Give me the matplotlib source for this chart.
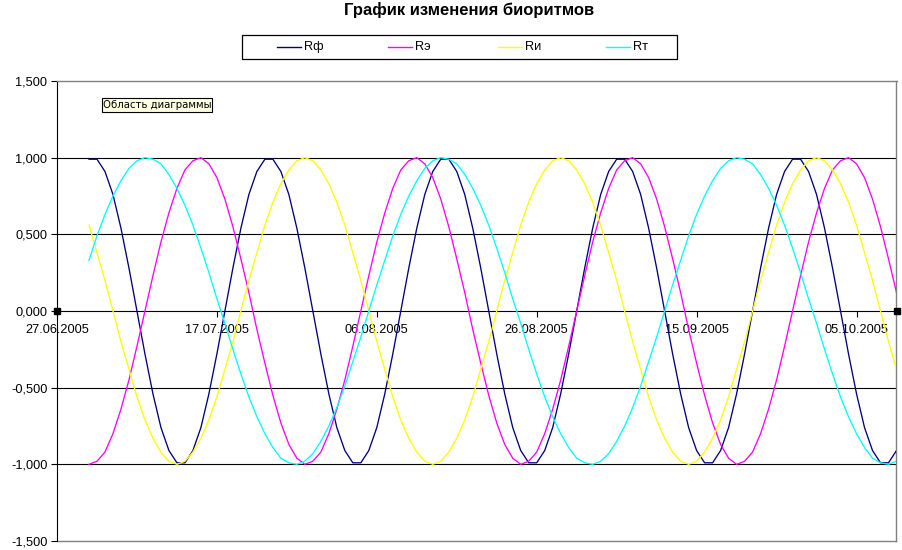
import matplotlib
matplotlib.use("Agg")
import matplotlib.pyplot as plt
import matplotlib.dates as mdates
from matplotlib.patches import Rectangle
from matplotlib.lines import Line2D
import pandas as pd

W, H = 903, 550

title = "График изменения биоритмов"
series_names = ["Rф", "Rэ", "Rи", "Rт"]
series_colors = ["#000080", "#FF00FF", "#FFFF00", "#00FFFF"]
start_date = "2005-07-01"
axis_start = "2005-06-27"
axis_end = "2005-10-10"
x_tick_dates = ["2005-06-27", "2005-07-17", "2005-08-06", "2005-08-26", "2005-09-15", "2005-10-05"]
y_ticks = [-1.5, -1.0, -0.5, 0.0, 0.5, 1.0, 1.5]
y_tick_labels = ["-1,500", "-1,000", "-0,500", "0,000", "0,500", "1,000", "1,500"]
grid_levels = [-1.0, -0.5, 0.5, 1.0]
tooltip_text = "Область диаграммы"

# daily values 01.07.2005 .. 10.10.2005
r_f = [
    0.99, 0.99, 0.91, 0.76, 0.54, 0.28, 0.00, -0.28, -0.54, -0.76, -0.91, -0.99, -0.99, -0.91, -0.76, -0.54, -0.28, 0.00, 0.28, 0.54, 0.76, 0.91,
    0.99, 0.99, 0.91, 0.76, 0.54, 0.28, 0.00, -0.28, -0.54, -0.76, -0.91, -0.99, -0.99, -0.91, -0.76, -0.54, -0.28, 0.00, 0.28, 0.54, 0.76, 0.91,
    0.99, 0.99, 0.91, 0.76, 0.54, 0.28, 0.00, -0.28, -0.54, -0.76, -0.91, -0.99, -0.99, -0.91, -0.76, -0.54, -0.28, 0.00, 0.28, 0.54, 0.76, 0.91,
    0.99, 0.99, 0.91, 0.76, 0.54, 0.28, 0.00, -0.28, -0.54, -0.76, -0.91, -0.99, -0.99, -0.91, -0.76, -0.54, -0.28, 0.00, 0.28, 0.54, 0.76, 0.91,
    0.99, 0.99, 0.91, 0.76, 0.54, 0.28, 0.00, -0.28, -0.54, -0.76, -0.91, -0.99, -0.99, -0.91,
]
r_e = [
    -1.00, -0.98, -0.92, -0.80, -0.64, -0.45, -0.23, 0.00, 0.23, 0.45, 0.64, 0.80, 0.92, 0.98, 1.00, 0.96, 0.87, 0.73, 0.55, 0.34, 0.12, -0.12, -0.34, -0.55, -0.73, -0.87, -0.96,
    -1.00, -0.98, -0.92, -0.80, -0.64, -0.45, -0.23, 0.00, 0.23, 0.45, 0.64, 0.80, 0.92, 0.98, 1.00, 0.96, 0.87, 0.73, 0.55, 0.34, 0.12, -0.12, -0.34, -0.55, -0.73, -0.87, -0.96,
    -1.00, -0.98, -0.92, -0.80, -0.64, -0.45, -0.23, 0.00, 0.23, 0.45, 0.64, 0.80, 0.92, 0.98, 1.00, 0.96, 0.87, 0.73, 0.55, 0.34, 0.12, -0.12, -0.34, -0.55, -0.73, -0.87, -0.96,
    -1.00, -0.98, -0.92, -0.80, -0.64, -0.45, -0.23, 0.00, 0.23, 0.45, 0.64, 0.80, 0.92, 0.98, 1.00, 0.96, 0.87, 0.73, 0.55, 0.34, 0.12,
]
r_i = [
    0.56, 0.38, 0.20, 0.00, -0.20, -0.38, -0.56, -0.71, -0.83, -0.92, -0.98, -1.00, -0.98, -0.92, -0.83, -0.71, -0.56, -0.38, -0.20, 0.00, 0.20, 0.38, 0.56, 0.71, 0.83, 0.92, 0.98, 1.00, 0.98, 0.92, 0.83, 0.71,
    0.56, 0.38, 0.20, 0.00, -0.20, -0.38, -0.56, -0.71, -0.83, -0.92, -0.98, -1.00, -0.98, -0.92, -0.83, -0.71, -0.56, -0.38, -0.20, 0.00, 0.20, 0.38, 0.56, 0.71, 0.83, 0.92, 0.98, 1.00, 0.98, 0.92, 0.83, 0.71,
    0.56, 0.38, 0.20, 0.00, -0.20, -0.38, -0.56, -0.71, -0.83, -0.92, -0.98, -1.00, -0.98, -0.92, -0.83, -0.71, -0.56, -0.38, -0.20, 0.00, 0.20, 0.38, 0.56, 0.71, 0.83, 0.92, 0.98, 1.00, 0.98, 0.92, 0.83, 0.71,
    0.56, 0.38, 0.20, 0.00, -0.20, -0.38,
]
r_t = [
    0.33, 0.49, 0.63, 0.75, 0.85, 0.93, 0.98, 1.00, 0.99, 0.96, 0.89, 0.80, 0.69, 0.56, 0.41, 0.25, 0.08, -0.08, -0.25, -0.41, -0.56, -0.69, -0.80, -0.89, -0.96, -0.99, -1.00, -0.98, -0.93, -0.85, -0.75, -0.63, -0.49, -0.33, -0.17, 0.00, 0.17,
    0.33, 0.49, 0.63, 0.75, 0.85, 0.93, 0.98, 1.00, 0.99, 0.96, 0.89, 0.80, 0.69, 0.56, 0.41, 0.25, 0.08, -0.08, -0.25, -0.41, -0.56, -0.69, -0.80, -0.89, -0.96, -0.99, -1.00, -0.98, -0.93, -0.85, -0.75, -0.63, -0.49, -0.33, -0.17, 0.00, 0.17,
    0.33, 0.49, 0.63, 0.75, 0.85, 0.93, 0.98, 1.00, 0.99, 0.96, 0.89, 0.80, 0.69, 0.56, 0.41, 0.25, 0.08, -0.08, -0.25, -0.41, -0.56, -0.69, -0.80, -0.89, -0.96, -0.99, -1.00, -0.98,
]

plt.rcParams["font.family"] = ["Liberation Sans", "DejaVu Sans"]


def fx(px):
    return px / W


def fy(py):
    return 1 - py / H


fig = plt.figure(figsize=(W / 100, H / 100), dpi=100)
fig.patch.set_facecolor("white")

ax = fig.add_axes([fx(57), fy(541), (896.5 - 57) / W, (541 - 81) / H])
ax.set_facecolor("white")

dates = pd.date_range(start_date, periods=len(r_f), freq="D")
for vals, col in zip([r_f, r_e, r_i, r_t], series_colors):
    ax.plot(dates, vals, color=col, lw=0.95, zorder=3, solid_joinstyle="round")

ax.set_xlim(pd.Timestamp(axis_start), pd.Timestamp(axis_end))
ax.set_ylim(-1.5, 1.5)

for g in grid_levels:
    ax.axhline(g, color="black", lw=0.8, zorder=1)
ax.axhline(-1.5, color="#808080", lw=1.0, zorder=1, clip_on=False)

ax.spines["bottom"].set_position(("data", 0))
ax.spines["bottom"].set_color("black")
ax.spines["bottom"].set_linewidth(0.8)
ax.spines["left"].set_color("black")
ax.spines["left"].set_linewidth(0.8)
for s in ["top", "right"]:
    ax.spines[s].set_color("#808080")
    ax.spines[s].set_linewidth(1.0)

ax.set_yticks(y_ticks)
ax.set_yticklabels(y_tick_labels)
ax.set_xticks(pd.to_datetime(x_tick_dates))
ax.xaxis.set_major_formatter(mdates.DateFormatter("%d.%m.%Y"))
ax.tick_params(axis="y", direction="out", length=4, width=0.8, pad=3, labelsize=9.2, colors="black")
ax.tick_params(axis="x", direction="out", length=4, width=0.8, pad=5.5, labelsize=9.2, colors="black")

# selection handles at the ends of the category axis
ax.plot([pd.Timestamp(axis_start), pd.Timestamp(axis_end)], [0, 0], "s",
        color="black", ms=3.8, clip_on=False, zorder=6)

# title
fig.text(fx(469.5), fy(10), title, ha="center", va="center", fontsize=12, fontweight="bold")

# legend box
fig.add_artist(Rectangle((fx(242.3), fy(59.3)), (676.7 - 242.3) / W, (59.3 - 35) / H,
                         transform=fig.transFigure, facecolor="white", edgecolor="black", lw=0.9))
leg_x = [276.7, 387.7, 497.7, 606.0]
for name, col, lx in zip(series_names, series_colors, leg_x):
    fig.add_artist(Line2D([fx(lx), fx(lx + 24)], [fy(47.3), fy(47.3)],
                          transform=fig.transFigure, color=col, lw=1.0))
    fig.text(fx(lx + 27.5), fy(47.3), name, ha="left", va="center", fontsize=9.2)

# chart-area tooltip
fig.add_artist(Rectangle((fx(101.7), fy(112.3)), (212.3 - 101.7) / W, (112.3 - 97.7) / H,
                         transform=fig.transFigure, facecolor="#FFFFE1", edgecolor="black", lw=0.8))
fig.text(fx(157), fy(105), tooltip_text, ha="center", va="center", fontsize=7.3,
         family=["DejaVu Sans"])

fig.savefig("out.png", dpi=100)
